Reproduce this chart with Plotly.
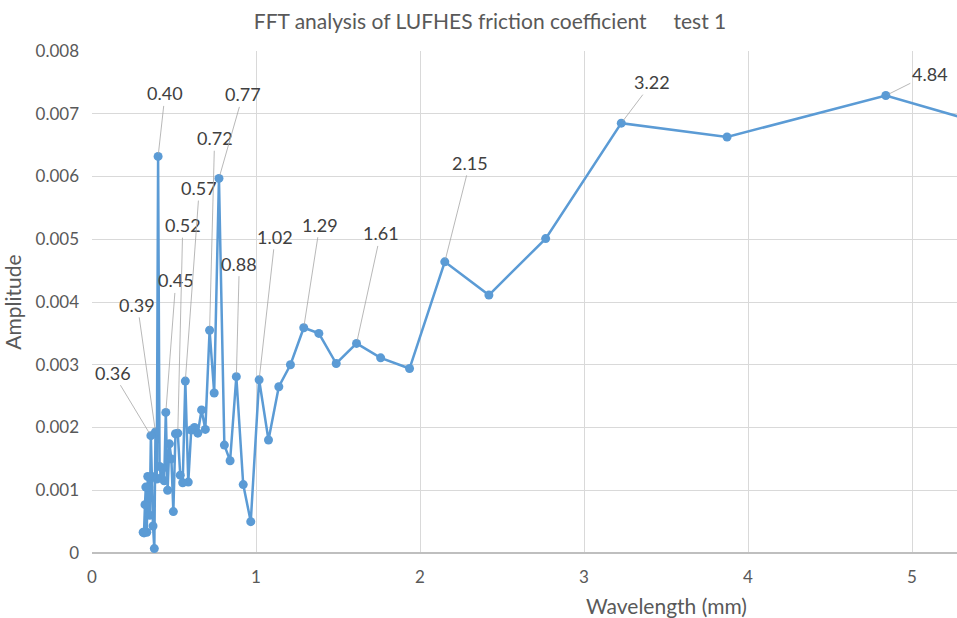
import plotly.graph_objects as go

# Wavelength (mm) and FFT amplitude
wavelength = [6.453, 4.840, 3.872, 3.227, 2.766, 2.420, 2.151, 1.936, 1.760, 1.613,
              1.489, 1.383, 1.291, 1.210, 1.139, 1.076, 1.019, 0.968, 0.922, 0.880,
              0.842, 0.807, 0.774, 0.745, 0.717, 0.691, 0.668, 0.645, 0.625, 0.605,
              0.587, 0.569, 0.553, 0.538, 0.523, 0.509, 0.496, 0.484, 0.472, 0.461,
              0.450, 0.440, 0.430, 0.421, 0.412, 0.403, 0.395, 0.387, 0.380, 0.372,
              0.365, 0.359, 0.352, 0.346, 0.340, 0.334, 0.328, 0.323, 0.317, 0.312]
amplitude = [0.00607, 0.00729, 0.00663, 0.00685, 0.00501, 0.00411, 0.00464, 0.00294, 0.00311, 0.00334,
             0.00302, 0.00350, 0.00359, 0.00300, 0.00265, 0.00180, 0.00276, 0.00050, 0.00109, 0.00281,
             0.00147, 0.00172, 0.00597, 0.00255, 0.00355, 0.00197, 0.00228, 0.00191, 0.00200, 0.00196,
             0.00113, 0.00274, 0.00112, 0.00124, 0.00191, 0.00190, 0.00066, 0.00150, 0.00174, 0.00100,
             0.00224, 0.00115, 0.00135, 0.00120, 0.00138, 0.00632, 0.00118, 0.00193, 0.00007, 0.00043,
             0.00122, 0.00187, 0.00060, 0.00105, 0.00122, 0.00033, 0.00105, 0.00077, 0.00032, 0.00033]

# Labelled peaks (wavelength value, label text)
label_x = [0.359, 0.387, 0.403, 0.450, 0.523, 0.569, 0.717, 0.774, 0.880, 1.019,
           1.291, 1.613, 2.151, 3.227, 4.840]
label_text = ["0.36", "0.39", "0.40", "0.45", "0.52", "0.57", "0.72", "0.77", "0.88", "1.02",
              "1.29", "1.61", "2.15", "3.22", "4.84"]

y_ticks = [0, 0.001, 0.002, 0.003, 0.004, 0.005, 0.006, 0.007, 0.008]
y_tick_text = ["0", "0.001", "0.002", "0.003", "0.004", "0.005", "0.006", "0.007", "0.008"]
x_ticks = [0, 1, 2, 3, 4, 5]

# label offsets in pixels (layout only)
label_offsets = [(-38, -63), (-18, -127), (7, -63), (10, -132), (5, -208), (14, -193),
                 (5, -192), (24, -84), (3, -113), (16, -143), (16, -103), (24, -110),
                 (25, -99), (31, -41), (44, -22)]

FONT = "Lato, sans-serif"
BLUE = "#5b9bd5"
W, H = 957, 618

fig = go.Figure()
fig.add_trace(go.Scatter(
    x=wavelength, y=amplitude, mode="lines+markers",
    line=dict(color=BLUE, width=2.5),
    marker=dict(color=BLUE, size=9),
    cliponaxis=False, showlegend=False,
))

lookup = dict(zip(wavelength, amplitude))
annotations = []
for lx, lt, (ax, ay) in zip(label_x, label_text, label_offsets):
    annotations.append(dict(
        x=lx, y=lookup[lx], xref="x", yref="y", text=lt,
        showarrow=True, arrowhead=0, arrowwidth=0.8, arrowcolor="#a6a6a6",
        ax=ax, ay=ay, standoff=3,
        font=dict(family=FONT, size=18, color="#404040"),
    ))
annotations.append(dict(
    x=(666 - 92) / 865, y=-(605 - 553) / 502, xref="paper", yref="paper",
    text="Wavelength (mm)", showarrow=False, xanchor="center", yanchor="middle",
    font=dict(family=FONT, size=21, color="#595959"),
))

fig.update_layout(
    width=W, height=H,
    margin=dict(l=92, r=0, t=51, b=65, autoexpand=False),
    paper_bgcolor="white", plot_bgcolor="white",
    title=dict(text="FFT analysis of LUFHES friction coefficient&nbsp;&nbsp;&nbsp;&nbsp;&nbsp;test 1",
               x=490 / W, xref="container", xanchor="center",
               y=1 - 22 / H, yref="container", yanchor="middle",
               font=dict(family=FONT, size=21, color="#595959")),
    annotations=annotations,
    font=dict(family=FONT, color="#595959"),
)
fig.update_xaxes(
    range=[0, 5.274], tickvals=x_ticks, showgrid=True, gridcolor="#d9d9d9", gridwidth=1,
    zeroline=False, showline=False, ticks="", ticklabelstandoff=12, automargin=False,
    tickfont=dict(family=FONT, size=17, color="#595959"),
)
fig.update_yaxes(
    range=[0, 0.008], tickvals=y_ticks, ticktext=y_tick_text,
    showgrid=True, gridcolor="#d9d9d9", gridwidth=1,
    zeroline=True, zerolinecolor="#bfbfbf", zerolinewidth=1.5,
    showline=False, ticks="", ticklabelstandoff=12, automargin=False,
    title=dict(text="Amplitude", font=dict(family=FONT, size=21, color="#595959"), standoff=9),
    tickfont=dict(family=FONT, size=17, color="#595959"),
)

fig.write_html("out.html",
               config={"displayModeBar": False},
               post_script="document.body.style.margin='0';document.body.style.overflow='hidden';")
